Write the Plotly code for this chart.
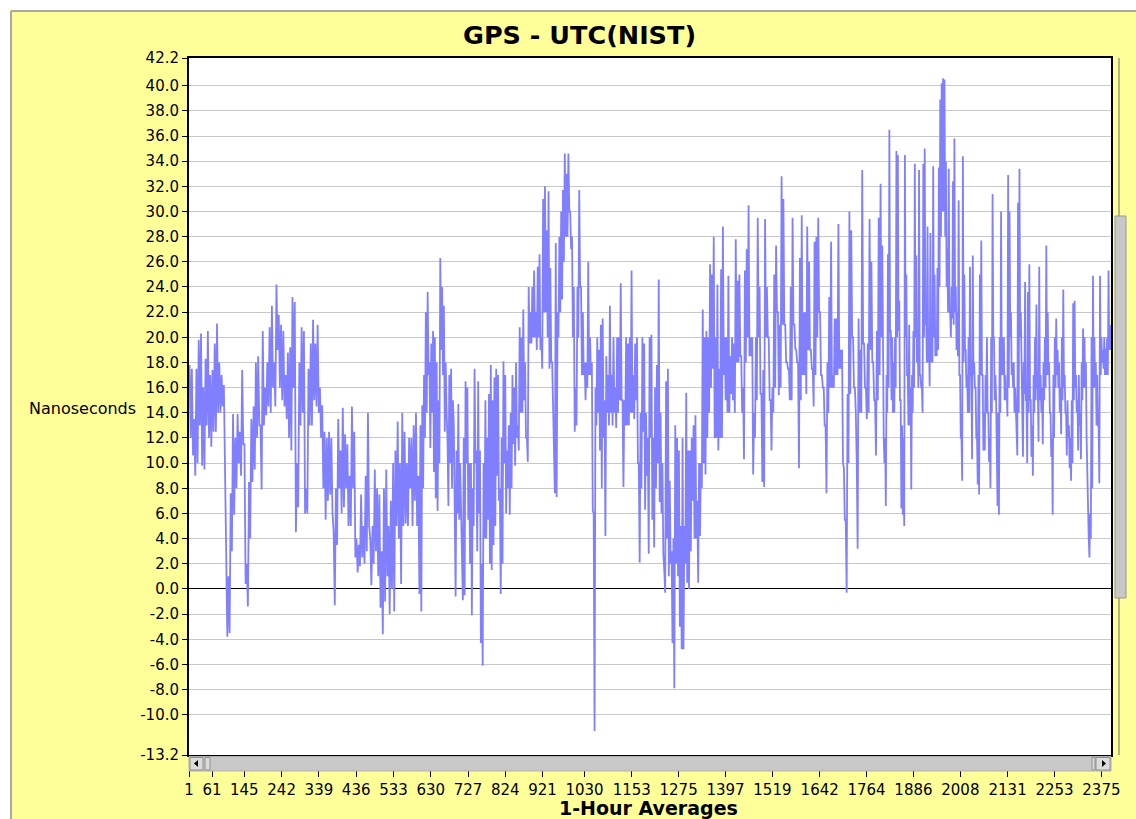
import plotly.graph_objects as go

W, H = 1136, 819
L, R, T, B = 189, 1111, 58, 755


def px(x):
    return (x - L) / (R - L)


def py(y):
    return (B - y) / (B - T)


# GPS - UTC(NIST), nanoseconds, read off the picture as alternating
# local highs / lows, segment by segment (hours 1-602, 602-1203, 1203-1804, 1804-2400)
seg_a_ns = [17.8, 12, 17.5, 10.6, 13.5, 9, 17.5, 10, 19.8, 13, 20.3, 9.8, 16, 9.5, 18.3, 13,
            20.5, 12, 17, 11.3, 17.4, 12.5, 19.5, 12.5, 21.1, 14, 18, 14, 17, 14.5, 16.2, 6.6,
            3, -3.8, 1, -3.5, 7.6, 3, 13.9, 5.9, 12, 8, 13.9, 10, 12.5, 9, 17.4, 11.5,
            11.5, 0.4, 2, -1.4, 8.5, 4, 13.5, 8.5, 14.5, 9.5, 18, 12, 18.5, 13, 13, 7.9,
            20.5, 13, 16, 13.8, 18, 14.5, 20.8, 14, 22.5, 16, 18, 14.5, 24.2, 19, 21.8, 16,
            21, 15, 20.5, 14.5, 17, 13.5, 18.8, 12, 19.2, 11, 23.2, 16, 22.8, 4.5, 10, 6.5,
            18, 13, 20.8, 14, 20.5, 6, 8, 6, 17.5, 13, 19.5, 13, 21.4, 15, 19.5, 14.5,
            21, 14, 16, 12, 14.6, 8, 12.5, 5.5, 12, 7, 12.5, 7.5, 12, 6, 4.5, -1.3,
            8, 3.5, 13.5, 8, 11, 6, 14.4, 6.5, 12.3, 8, 11.5, 5, 9, 5, 14.5, 8,
            12.5, 2.5, 4, 1.3, 3.5, 1.8, 7.5, 2.5, 5, 2, 9, 3, 14, 5, 4, 0.3,
            5, 2, 9.5, 3, 8, 1, 7.5, -1.5, 3, -3.6, 8, -1, 9.5, 1, 5, -2,
            7, 0, 10, -1.8, 11, 5, 13.3, 4, 10, 0.4, 14, 5, 12.5, 5.2, 10, 5,
            12, 8, 12, 5, 13, 7, 14, 5, 9, -0.4]

seg_b_ns = [13, -1.8, 14.6, 8, 17, 12, 22, 14, 23.6, 17, 18, 11.2, 19.5, 14, 20.5, 9.3,
            20, 7.2, 18, 6.2, 15, 10, 26.3, 19, 24, 17, 22.5, 12.5, 18, 14, 12, 6.6,
            17, 10, 17.5, 8, 15, 13, 3, -0.6, 11, 6, 14.7, 5.5, 10, 6, 1.5, -0.9,
            12, -0.5, 16.5, 10, 16, 5.5, 10, 2, 10, -2.1, 8, 5, 17.5, 10, 11, 3,
            16.5, 6, 11, -4.3, 2, -6.1, 10, 4, 15, 4, 12, 5.5, 15.5, 2, 17.8, 1.5,
            15, 3.5, 16.8, 5, 17.5, 9, 17, 7, 8, -0.4, 12, 2, 18.1, 10, 17, 6,
            11, 8, 13, 5.9, 14, 8, 17, 11.5, 16, 9.8, 18, 12, 13, 11, 20.8, 14,
            20, 14, 22.2, 15, 18, 12, 12, 10.1, 24, 19.5, 22, 19.5, 24, 20, 25.3, 20,
            22, 19, 25.6, 20, 26.6, 19, 20, 17.5, 31, 22, 32, 22, 28.5, 20, 31.6, 17.5,
            25.5, 18, 18, 14, 12, 7.6, 27.5, 7.3, 22, 20, 28, 22, 30, 23, 31.7, 26,
            34.6, 28, 33, 28, 34.6, 30, 30, 27, 28, 20, 24, 12.5, 16, 13, 24, 20,
            31.7, 24, 24, 17, 22, 17, 18, 15, 18, 16, 26, 17, 20, 17, 18, 6.2,
            6, -11.3, 16, 13, 20, 14, 19, 11, 21, 8, 21.5, 12, 15, 4.2, 18.5, 14,
            17, 13, 22.5, 14, 17, 13, 20, 14, 16, 12.8, 20, 14, 20, 15, 24.3, 15,
            15, 8.1, 15, 13, 20, 13, 19.5, 13, 20, 14, 25.3, 14, 17, 13.5, 19.5, 15,
            20, 10, 10, 2.1, 14, 8, 20, 12.5, 19.5, 6.3, 14, 9, 12, 2.8, 20, 12]

seg_c_ns = [20.2, 5.5, 12, 3.3, 16, 8, 17.8, 10, 24.6, 6.9, 14, 6, 10, 2.8, 1.5, -0.3,
            16.5, 4, 17.5, 1, 8.6, 2, 3, -4.3, 4, -7.9, 13, 2, 12, 1, 11, -3,
            5, -4.8, 12, -4.8, 5, 2, 15.6, 0.5, 11, 0, 11, 3, 12, 7, 13, 4,
            13.8, 4, 7, 0.5, 10, 4.2, 10, 8, 22.2, 10, 20, 9.1, 20.5, 12, 20, 14,
            25.8, 16, 25, 17.5, 28, 12, 20, 12, 24.2, 11, 17.5, 12, 25.4, 12, 28.8, 17,
            20, 15, 20, 14, 24.9, 14, 18.5, 15.5, 20, 15, 19.5, 14, 27.8, 18, 24.5, 18,
            25, 18.5, 18.5, 14, 16, 10.3, 25.3, 18, 27, 20, 30.5, 18.5, 20, 18.5, 20, 9.1,
            14, 12, 20, 15, 29.5, 20, 24, 15.5, 15.5, 8.5, 17.4, 8.1, 29.4, 20, 24, 20,
            20, 15, 15, 11, 16, 14, 25, 16, 27.3, 22, 22, 15.4, 21, 16, 32.8, 21,
            31, 21, 21, 18, 18, 17.5, 17.5, 15, 24, 15, 29.5, 21, 21, 19.1, 19, 18,
            18, 9.6, 26.3, 15, 29.7, 17, 22, 17, 22, 15.5, 28.8, 19, 26, 19, 19, 17.5,
            17.5, 14.5, 27.6, 17, 28, 20, 29.5, 22, 22, 17, 17, 16, 16, 13, 13, 7.6,
            18, 14, 23.2, 16, 27.6, 16, 17, 16, 21.5, 17, 21.5, 17, 29, 17.5, 19, 17.5,
            19, 10, 9.6, 5.5, 5.5, -0.3, 15.5, 10, 30, 15.5, 28.5, 20, 20, 16, 16, 14,
            10, 3.2, 21.5, 14, 19, 14, 33.3, 19.5, 19.5, 16, 16, 13.5, 19.5, 14, 29.4, 19,
            26, 18, 18, 15, 15, 10.6, 20.5, 15, 29.5, 17, 32.2, 20]

seg_d_ns = [27.3, 17.5, 12, 10, 12, 6.6, 17, 14, 26.6, 16, 36.5, 20.5, 20.5, 15, 20, 14,
            18, 14, 20, 16, 34.8, 20, 34.5, 20.5, 22.9, 15, 15, 6.4, 13, 5.9, 12, 5,
            34.5, 20, 25, 17, 17, 13, 21, 13, 16, 7.9, 17, 14, 20.5, 16, 33.8, 20,
            26.5, 18, 20.5, 16, 33.3, 17, 17, 16, 16, 14, 33.8, 20, 35, 21, 22, 18,
            28.8, 18, 20, 16.1, 28.3, 18, 20, 18, 33.6, 20, 25, 18.5, 20, 18.5, 25.5, 19,
            33.5, 24, 38.9, 28, 40.2, 30, 40.6, 30, 40.5, 28, 34, 24, 27, 22, 33.4, 22,
            22, 20, 24, 21.5, 32.4, 21, 35.8, 22, 24, 19, 22, 18.5, 30.9, 17, 17, 12,
            12, 8.6, 34.4, 18, 25, 19, 19, 16, 17, 14, 20, 14, 25.6, 17, 17, 10.3,
            26.5, 17, 18, 16, 16, 12, 12, 8.3, 17, 7.5, 25, 17, 27.7, 17, 17, 11,
            14, 11, 17, 14, 20, 14, 14, 10.1, 12, 8, 20, 14, 31.4, 20, 20, 15,
            17, 15, 12, 6.6, 14, 5.9, 20, 14, 30, 17, 20, 17, 20, 15, 17, 15,
            16, 13.7, 32.9, 16, 30, 20, 22, 17, 18, 16, 18, 14, 16, 14, 14, 10.6,
            30.7, 14, 33.4, 20, 22, 14, 14, 10.5, 18, 15.5, 24.4, 15, 15, 10, 23.6, 14,
            25.8, 15, 15, 10.5, 13, 9, 17, 14, 20, 15, 22.6, 16, 16, 11.7, 25.6, 15,
            17, 14, 16, 11.5, 18, 15, 20, 16, 27.3, 17, 22, 17, 18, 14, 14, 10.5,
            12, 5.9, 17, 12, 20, 16, 21.5, 17, 19, 16, 18, 14, 16, 12.3, 20, 15,
            23.8, 16, 17, 14, 14, 10.6, 15, 12, 13, 9.6, 12, 8.6, 15, 10, 22.7, 15,
            22.9, 16, 17, 14, 15, 11, 17, 13, 14, 10.3, 18, 15, 20.7, 16, 20, 16,
            18, 12, 8, 5.2, 4, 2.5, 6, 4, 20, 8, 24.9, 16, 20, 16, 18, 13,
            17, 13, 13, 8.4, 24.9, 17, 20, 18, 19, 17.5, 20, 17, 19.1, 17, 20, 17,
            25.3, 19, 21, 19]

seg_hours = [(1, 602), (602, 1203), (1203, 1804), (1804, 2400)]

x_tick_vals = [1, 61, 145, 242, 339, 436, 533, 630, 727, 824, 921, 1030, 1153, 1275,
               1397, 1519, 1642, 1764, 1886, 2008, 2131, 2253, 2375]
y_tick_vals = [-13.2, -10, -8, -6, -4, -2, 0, 2, 4, 6, 8, 10, 12, 14, 16, 18, 20, 22,
               24, 26, 28, 30, 32, 34, 36, 38, 40, 42.2]
y_tick_text = [f"{v:.1f}" for v in y_tick_vals]

hours, ns = [], []
for (h0, h1), vals in zip(seg_hours, [seg_a_ns, seg_b_ns, seg_c_ns, seg_d_ns]):
    n = len(vals)
    for i, v in enumerate(vals):
        hours.append(h0 + (i + 0.5) * (h1 - h0) / n)
        ns.append(v)

YELLOW = "#FFFF99"
FONT = "DejaVu Sans"

fig = go.Figure()
fig.add_trace(go.Scatter(x=hours, y=ns, mode="lines",
                         line=dict(color="#8080FF", width=1.8),
                         hoverinfo="skip", showlegend=False))

shapes = []
# white strip above / left of the yellow panel and its grey border
shapes.append(dict(type="rect", xref="paper", yref="paper", x0=px(-5), x1=px(W + 5),
                   y0=py(10), y1=py(-5), fillcolor="white", line=dict(width=0), layer="below"))
shapes.append(dict(type="rect", xref="paper", yref="paper", x0=px(-5), x1=px(10),
                   y0=py(H + 5), y1=py(-5), fillcolor="white", line=dict(width=0), layer="below"))
shapes.append(dict(type="line", xref="paper", yref="paper", x0=px(11), x1=px(W + 5),
                   y0=py(11), y1=py(11), line=dict(color="#A8A8A8", width=2), layer="below"))
shapes.append(dict(type="line", xref="paper", yref="paper", x0=px(11), x1=px(11),
                   y0=py(11), y1=py(H + 5), line=dict(color="#A8A8A8", width=2), layer="below"))

# horizontal scrollbar under the plot
shapes.append(dict(type="rect", xref="paper", yref="paper", x0=px(L), x1=px(R),
                   y0=py(771), y1=py(756.5), fillcolor="#C8C8C8",
                   line=dict(color="#B0B0B0", width=1), layer="above"))
for bx0, bx1 in [(L + 1, 203), (1096, R - 1)]:
    shapes.append(dict(type="rect", xref="paper", yref="paper", x0=px(bx0), x1=px(bx1),
                       y0=py(770), y1=py(757.5), fillcolor="#DCDCDC",
                       line=dict(color="#909090", width=1), layer="above"))
shapes.append(dict(type="rect", xref="paper", yref="paper", x0=px(205), x1=px(210),
                   y0=py(770), y1=py(757.5), fillcolor="#DCDCDC",
                   line=dict(color="#909090", width=1), layer="above"))
shapes.append(dict(type="rect", xref="paper", yref="paper", x0=px(1092), x1=px(1095),
                   y0=py(770), y1=py(757.5), fillcolor="#DCDCDC",
                   line=dict(color="#909090", width=1), layer="above"))
shapes.append(dict(type="path", xref="paper", yref="paper",
                   path=f"M {px(194)} {py(763.5)} L {px(198)} {py(760)} L {px(198)} {py(767)} Z",
                   fillcolor="black", line=dict(width=0), layer="above"))
shapes.append(dict(type="path", xref="paper", yref="paper",
                   path=f"M {px(1106)} {py(763.5)} L {px(1102)} {py(760)} L {px(1102)} {py(767)} Z",
                   fillcolor="black", line=dict(width=0), layer="above"))

# vertical scrollbar on the right
shapes.append(dict(type="line", xref="paper", yref="paper", x0=px(1119), x1=px(1119),
                   y0=py(T), y1=py(B), line=dict(color="#B4B48C", width=2), layer="above"))
shapes.append(dict(type="rect", xref="paper", yref="paper", x0=px(1115), x1=px(1126),
                   y0=py(598), y1=py(216), fillcolor="#C8C8C8",
                   line=dict(color="#989898", width=1), layer="above"))

annotations = [
    dict(text="<b>GPS - UTC(NIST)</b>", xref="paper", yref="paper", x=px(579), y=py(35),
         xanchor="center", yanchor="middle", showarrow=False,
         font=dict(family=FONT, size=25.5, color="black")),
    dict(text="<b>1-Hour Averages</b>", xref="paper", yref="paper", x=px(648), y=py(808),
         xanchor="center", yanchor="middle", showarrow=False, borderpad=0,
         font=dict(family=FONT, size=19, color="black")),
    dict(text="Nanoseconds", xref="paper", yref="paper", x=px(27), y=py(408),
         xanchor="left", yanchor="middle", showarrow=False,
         font=dict(family=FONT, size=16, color="black")),
]

fig.update_layout(
    width=W, height=H,
    margin=dict(l=L, r=W - R, t=T, b=H - B, pad=0),
    paper_bgcolor=YELLOW, plot_bgcolor="white",
    shapes=shapes, annotations=annotations, showlegend=False,
    xaxis=dict(range=[1, 2400], tickmode="array", tickvals=x_tick_vals,
               ticktext=[str(v) for v in x_tick_vals],
               showgrid=False, zeroline=False, showline=True, mirror=True,
               linecolor="black", linewidth=2, ticks="outside", ticklen=20,
               tickcolor="black", tickwidth=1,
               tickfont=dict(family=FONT, size=15, color="black")),
    yaxis=dict(range=[-13.2, 42.2], tickmode="array", tickvals=y_tick_vals,
               ticktext=y_tick_text, showgrid=True, gridcolor="#C8C8C8", gridwidth=1,
               zeroline=True, zerolinecolor="black", zerolinewidth=1,
               showline=True, mirror=True, linecolor="black", linewidth=2,
               ticks="outside", ticklen=5, tickcolor="black", tickwidth=1,
               tickfont=dict(family=FONT, size=15, color="black")),
)

fig.write_html("out.html", config={"displayModeBar": False},
               post_script="document.body.style.margin='0';document.body.style.overflow='hidden';")
